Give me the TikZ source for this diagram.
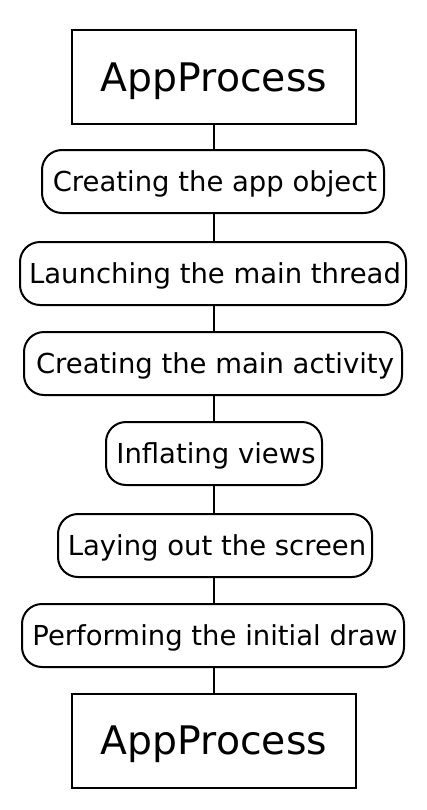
\documentclass[tikz,border=0pt]{standalone}
\usepackage{fontspec}
\setmainfont{DejaVu Sans}
\begin{document}
\begin{tikzpicture}[x=0.75pt,y=-0.75pt,
  procbox/.style={draw,line width=1.5pt,minimum width=213pt,minimum height=70.5pt,inner sep=0pt,font=\fontsize{29.5pt}{32pt}\selectfont,text height=21.5pt,text depth=0pt},
  stepbox/.style={draw,line width=1.5pt,rounded corners=15pt,minimum height=47.25pt,inner xsep=0pt,inner ysep=0pt,font=\fontsize{20.6pt}{24pt}\selectfont,text height=15pt,text depth=0pt,execute at begin node={\kern3pt}},
  link/.style={line width=1.5pt}]
\useasboundingbox (0,0) rectangle (426,810);
\node[procbox] (top) at (214,77) {AppProcess};
\node[stepbox,minimum width=256.5pt] (s1) at (213,181.5) {Creating the app object};
\node[stepbox,minimum width=289.5pt] (s2) at (213,273.5) {Launching the main thread};
\node[stepbox,minimum width=283.5pt] (s3) at (213,363.5) {Creating the main activity};
\node[stepbox,minimum width=162pt] (s4) at (214,453.5) {Inflating views};
\node[stepbox,minimum width=235.5pt] (s5) at (215,545.5) {Laying out the screen};
\node[stepbox,minimum width=286.5pt] (s6) at (213,635.5) {Performing the initial draw};
\node[procbox] (bot) at (214,740.5) {AppProcess};
\draw[link] (top.south) -- (s1.north -| top.south);
\draw[link] (s1.south -| top.south) -- (s2.north -| top.south);
\draw[link] (s2.south -| top.south) -- (s3.north -| top.south);
\draw[link] (s3.south -| top.south) -- (s4.north -| top.south);
\draw[link] (s4.south -| top.south) -- (s5.north -| top.south);
\draw[link] (s5.south -| top.south) -- (s6.north -| top.south);
\draw[link] (s6.south -| top.south) -- (bot.north);
\end{tikzpicture}
\end{document}
